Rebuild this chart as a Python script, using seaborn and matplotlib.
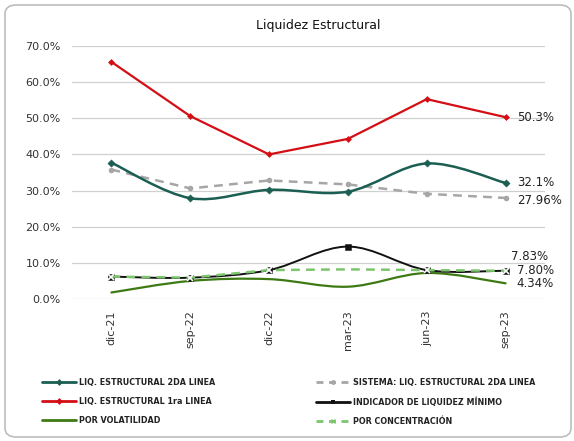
import numpy as np
import pandas as pd
import matplotlib
matplotlib.use("Agg")
import matplotlib.pyplot as plt
from matplotlib.path import Path
from matplotlib.patches import PathPatch, FancyBboxPatch
from matplotlib.lines import Line2D
import seaborn as sns

# ---------------- data ----------------
categories = ["dic-21", "sep-22", "dic-22", "mar-23", "jun-23", "sep-23"]
liq_2da = [37.7, 27.9, 30.2, 29.7, 37.5, 32.1]
sistema_2da = [35.8, 30.6, 32.8, 31.7, 29.1, 27.96]
liq_1ra = [65.6, 50.6, 40.0, 44.3, 55.3, 50.3]
indicador_min = [6.2, 5.9, 8.0, 14.5, 8.0, 7.83]
volatilidad = [1.8, 5.0, 5.5, 3.4, 7.2, 4.34]
concentracion = [6.2, 5.9, 8.0, 8.2, 8.0, 7.80]
yticks = [0, 10, 20, 30, 40, 50, 60, 70]
labels_last = ["32.1%", "27.96%", "50.3%", "7.83%", "7.80%", "4.34%"]

names = ["LIQ. ESTRUCTURAL 2DA LINEA", "SISTEMA: LIQ. ESTRUCTURAL 2DA LINEA",
         "LIQ. ESTRUCTURAL 1ra LINEA", "INDICADOR DE LIQUIDEZ MÍNIMO",
         "POR VOLATILIDAD", "POR CONCENTRACIÓN"]

C_TEAL = "#1B5E52"
C_GRAY = "#A6A6A6"
C_RED = "#D40E14"
C_BLACK = "#111111"
C_DGREEN = "#3E7A14"
C_LGREEN = "#7CC46E"

sns.set_theme(style="white")
plt.rcParams["font.family"] = ["DejaVu Sans"]

x = np.arange(len(categories))
df = pd.DataFrame({"x": x, "cat": categories})

fig = plt.figure(figsize=(5.74, 4.41), dpi=100)
ax = fig.add_axes([72 / 574, 1 - 299 / 441, (545 - 72) / 574, (299 - 46) / 441])

# border
fig.patches.append(FancyBboxPatch((5 / 574, 4 / 441), 566 / 574, 432 / 441,
                                  boxstyle="round,pad=0,rounding_size=0.02",
                                  transform=fig.transFigure, fill=False,
                                  edgecolor="#BDBDBD", lw=1.2))


def smooth_path(xs, ys):
    """Excel-like smoothed line drawn as cubic Bezier segments through the data points."""
    pts = np.column_stack([xs, ys]).astype(float)
    n = len(pts)
    verts = [pts[0]]
    codes = [Path.MOVETO]
    for i in range(n - 1):
        p0 = pts[i - 1] if i > 0 else pts[i]
        p1 = pts[i]
        p2 = pts[i + 1]
        p3 = pts[i + 2] if i + 2 < n else pts[i + 1]
        c1 = p1 + (p2 - p0) / 6.0
        c2 = p2 - (p3 - p1) / 6.0
        verts += [c1, c2, p2]
        codes += [Path.CURVE4] * 3
    return Path(verts, codes)


def smooth_line(values, color, lw, ls="-", z=2):
    patch = PathPatch(smooth_path(x, values), facecolor="none", edgecolor=color,
                      lw=lw, ls=ls, zorder=z, capstyle="round")
    ax.add_patch(patch)


# volatilidad (smooth, no markers)
smooth_line(volatilidad, C_DGREEN, 1.6, z=2)
# indicador minimo (smooth, square markers)
smooth_line(indicador_min, C_BLACK, 1.4, z=3)
sns.scatterplot(x=x, y=indicador_min, ax=ax, marker="s", s=22, color=C_BLACK,
                edgecolor=C_BLACK, zorder=4, legend=False)
# concentracion (dashed, x markers)
sns.lineplot(x=x, y=concentracion, ax=ax, color=C_LGREEN, lw=1.8, ls=(0, (3.5, 2.5)),
             marker="x", markersize=5, markeredgewidth=1.2, zorder=5, legend=False)
# sistema (dashed gray)
sns.lineplot(x=x, y=sistema_2da, ax=ax, color=C_GRAY, lw=1.8, ls=(0, (3.5, 2.5)),
             marker="o", markersize=4, markeredgewidth=0, zorder=3, legend=False)
# 2da linea (smooth teal)
smooth_line(liq_2da, C_TEAL, 1.8, z=4)
sns.scatterplot(x=x, y=liq_2da, ax=ax, marker="D", s=14, color=C_TEAL,
                edgecolor=C_TEAL, zorder=5, legend=False)
# 1ra linea (straight red)
sns.lineplot(x=x, y=liq_1ra, ax=ax, color=C_RED, lw=1.6, marker="D", markersize=3.5,
             markeredgewidth=0, zorder=5, legend=False)

ax.set_xlim(-0.5, len(categories) - 0.5)
ax.set_ylim(0, 70)
ax.set_yticks(yticks)
ax.set_yticklabels([f"{v:.1f}%" for v in yticks], fontsize=8, color="#333333")
ax.set_xticks(x)
ax.set_xticklabels(categories, rotation=90, fontsize=8, color="#333333")
ax.tick_params(axis="both", length=0, pad=8)
ax.set_xlabel("")
ax.set_ylabel("")
ax.grid(axis="y", color="#D0D0D0", lw=0.9)
ax.grid(axis="x", visible=False)
for s in ax.spines.values():
    s.set_visible(False)
ax.set_clip_on(False)

# end labels
last = len(categories) - 1
ends = [(liq_2da[-1], labels_last[0], (8, 0)),
        (sistema_2da[-1], labels_last[1], (8, -2)),
        (liq_1ra[-1], labels_last[2], (8, 0)),
        (indicador_min[-1], labels_last[3], (4, 10)),
        (concentracion[-1], labels_last[4], (8, 0)),
        (volatilidad[-1], labels_last[5], (8, 0))]
for yv, txt, off in ends:
    ax.annotate(txt, xy=(last, yv), xytext=off, textcoords="offset points",
                ha="left", va="center", fontsize=8.5, color="#222222",
                annotation_clip=False)

fig.text(318 / 574, 1 - 25 / 441, "Liquidez Estructural", ha="center", va="center",
         fontsize=9, color="#111111")

# legends
def h(color, ls="-", marker=None, lw=2.0, ms=3.5):
    return Line2D([0], [0], color=color, ls=ls, lw=lw, marker=marker, markersize=ms,
                  markeredgewidth=1 if marker == "x" else 0)

left_h = [h(C_TEAL, marker="D"), h(C_RED, marker="D"), h(C_DGREEN)]
left_l = [names[0], names[2], names[4]]
right_h = [h(C_GRAY, ls=(0, (2.5, 2)), marker="o"), h(C_BLACK, marker="s"),
           h(C_LGREEN, ls=(0, (2.5, 2)), marker="x")]
right_l = [names[1], names[3], names[5]]

leg_kw = dict(frameon=False, prop={"size": 5.8, "weight": "bold"}, handlelength=4.2,
              handletextpad=0.4, labelspacing=1.25, borderaxespad=0, borderpad=0)
l1 = fig.legend(left_h, left_l, loc="upper left", bbox_to_anchor=(42 / 574, 1 - 378 / 441), **leg_kw)
l2 = fig.legend(right_h, right_l, loc="upper left", bbox_to_anchor=(316 / 574, 1 - 378 / 441), **leg_kw)
for lg in (l1, l2):
    for t in lg.get_texts():
        t.set_color("#222222")

fig.savefig("out.png", dpi=100)
